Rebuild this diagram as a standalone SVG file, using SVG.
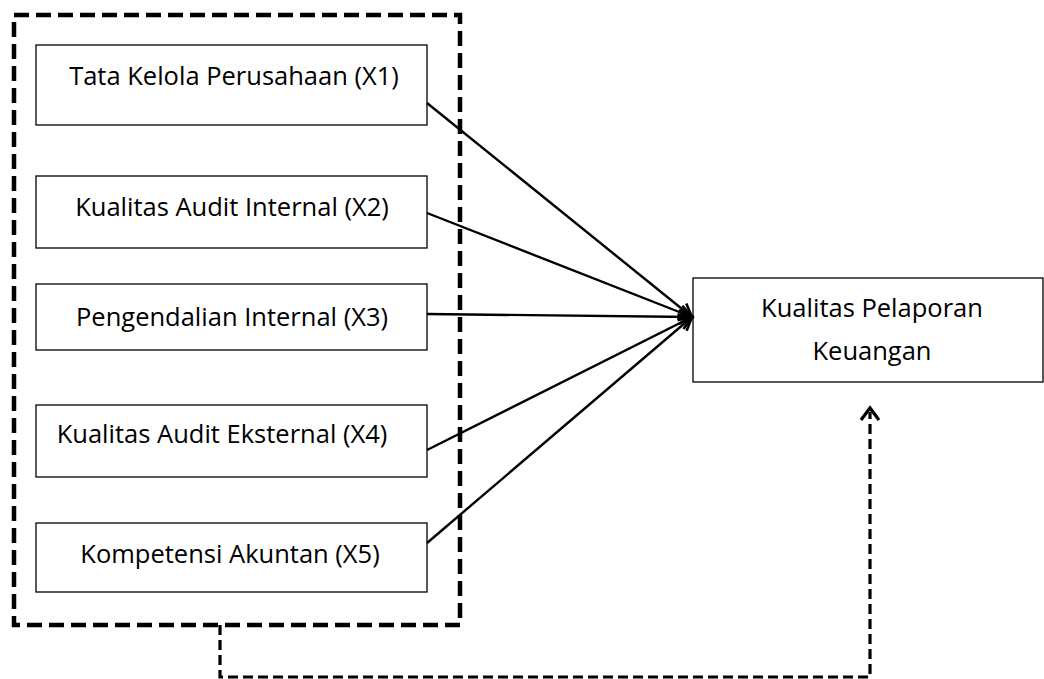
<svg xmlns="http://www.w3.org/2000/svg" width="1044" height="679" viewBox="0 0 1044 679">
<style>
.box{fill:#fff;stroke:#000;stroke-width:1.3}
.lbl{font-family:"Open Sans","Liberation Sans",sans-serif;font-size:25.5px;fill:#000;text-anchor:middle}
.arr{stroke:#000;stroke-width:2.4;fill:none}
.frame{fill:none;stroke:#000;stroke-width:4.5;stroke-dasharray:15 7}
.dash{fill:none;stroke:#000;stroke-width:3.2;stroke-dasharray:10 5}
</style>
<defs>
<marker id="ah" markerUnits="userSpaceOnUse" markerWidth="20" markerHeight="20" refX="15" refY="8" orient="auto" viewBox="0 0 20 16">
<path d="M2,1 L15,8 L2,15" fill="none" stroke="#000" stroke-width="2.6"/>
</marker>
</defs>
<g id="group-frame">
<rect class="frame" x="14" y="15" width="446" height="610"/>
</g>
<g id="node-x1"><rect class="box" x="36" y="45" width="391" height="80"/><text class="lbl" x="234" y="85">Tata Kelola Perusahaan (X1)</text></g>
<g id="node-x2"><rect class="box" x="36" y="176" width="391" height="72"/><text class="lbl" x="232" y="216">Kualitas Audit Internal (X2)</text></g>
<g id="node-x3"><rect class="box" x="36" y="284" width="391" height="66"/><text class="lbl" x="232" y="326">Pengendalian Internal (X3)</text></g>
<g id="node-x4"><rect class="box" x="36" y="405" width="391" height="72"/><text class="lbl" x="222" y="443">Kualitas Audit Eksternal (X4)</text></g>
<g id="node-x5"><rect class="box" x="36" y="523" width="391" height="69"/><text class="lbl" x="230" y="563">Kompetensi Akuntan (X5)</text></g>
<g id="node-y"><rect class="box" x="693" y="278" width="350" height="104"/><text class="lbl" x="872" y="317">Kualitas Pelaporan</text><text class="lbl" x="872" y="360">Keuangan</text></g>
<g id="connectors">
<line class="arr" x1="427" y1="103" x2="692" y2="317" marker-end="url(#ah)"/>
<line class="arr" x1="427" y1="213" x2="692" y2="317" marker-end="url(#ah)"/>
<line class="arr" x1="427" y1="314" x2="692" y2="317" marker-end="url(#ah)"/>
<line class="arr" x1="427" y1="450" x2="692" y2="317" marker-end="url(#ah)"/>
<line class="arr" x1="427" y1="543" x2="692" y2="317" marker-end="url(#ah)"/>
<path class="dash" d="M220,625 L220,677 L870,677 L870,412"/>
<path d="M861,420 L870,408 L879,420" fill="none" stroke="#000" stroke-width="3.2"/>
</g>
</svg>
